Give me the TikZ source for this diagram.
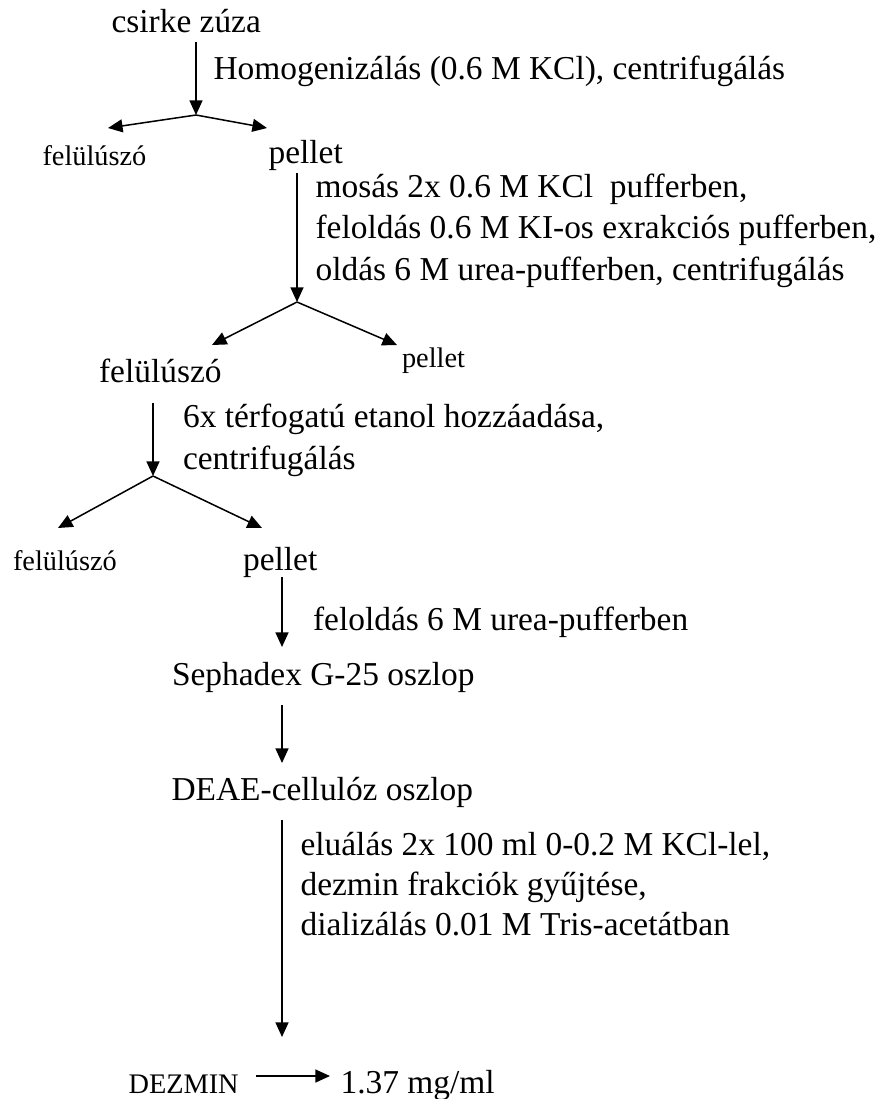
\documentclass[tikz,border=0pt]{standalone}
\usepackage{fontspec}
\setmainfont{Liberation Serif}
\usepackage{tikz}
\usetikzlibrary{arrows.meta}
\tikzset{
   every path/.style={>={Triangle[length=5.3pt,width=4.7pt]}},
   flow/.style={->,line width=0.55pt},
   txt/.style={anchor=base west,inner sep=0pt,font=\fontsize{12.15pt}{14pt}\selectfont},
   txtsm/.style={txt,font=\fontsize{10.3pt}{12pt}\selectfont},
}
\begin{document}
\begin{tikzpicture}[x=0.3636pt,y=-0.3636pt]
        \useasboundingbox (0,0) rectangle (882,1099);

        \node[txt] (zuza) at (111,32) {csirke zúza};
        \node[txt] (homog) at (213,79) {Homogenizálás (0.6 M KCl), centrifugálás};
        \node[txtsm] (fel1) at (42,165) {felülúszó};
        \node[txt] (pel1) at (268,163) {pellet};

        \node[txt] (mos1) at (315,197) {mosás 2x 0.6 M KCl\ \ pufferben,};
        \node[txt] (mos2) at (315,238.5) {feloldás 0.6 M KI-os exrakciós pufferben,};
        \node[txt] (mos3) at (315,280) {oldás 6 M urea-pufferben, centrifugálás};
        \node[txtsm] (pel2) at (401.5,367) {pellet};
        \node[txt] (fel2) at (98.5,382) {felülúszó};

        \node[txt] (etan1) at (182.5,427) {6x térfogatú etanol hozzáadása,};
        \node[txt] (etan2) at (182.5,469) {centrifugálás};
        \node[txtsm] (fel3) at (12.5,570) {felülúszó};
        \node[txt] (pel3) at (242.5,570) {pellet};

        \node[txt] (urea) at (312.5,630) {feloldás 6 M urea-pufferben};
        \node[txt] (seph) at (171.5,685) {Sephadex G-25 oszlop};
        \node[txt] (deae) at (171,800) {DEAE-cellulóz oszlop};

        \node[txt] (elu1) at (300,855) {eluálás 2x 100 ml 0-0.2 M KCl-lel,};
        \node[txt] (elu2) at (300,895) {dezmin frakciók gyűjtése,};
        \node[txt] (elu3) at (300,935) {dializálás 0.01 M Tris-acetátban};

        \node[txtsm] (dezmin) at (128,1093) {DEZMIN};
        \node[txt] (conc) at (340,1093) {1.37 mg/ml};

        % split points and arrow ends
        \coordinate (s1) at (196,42);   \coordinate (b1) at (196,115);
        \coordinate (l1) at (108,128);  \coordinate (r1) at (267,128);
        \coordinate (s2) at (297,173);  \coordinate (b2) at (297,302);
        \coordinate (l2) at (212,345);  \coordinate (r2) at (397,345);
        \coordinate (s3) at (153,403);  \coordinate (b3) at (153,476);
        \coordinate (l3) at (58,528);   \coordinate (r3) at (262,528);
        \coordinate (s4) at (282,577);  \coordinate (e4) at (282,647);
        \coordinate (s5) at (282,705);  \coordinate (e5) at (282,763);
        \coordinate (s6) at (282,820);  \coordinate (e6) at (282,1037);
        \coordinate (h1) at (256,1076); \coordinate (h2) at (330,1076);

        \draw[flow] (s1) -- (b1);
        \draw[flow] (b1) -- (l1);
        \draw[flow] (b1) -- (r1);

        \draw[flow] (s2) -- (b2);
        \draw[flow] (b2) -- (l2);
        \draw[flow] (b2) -- (r2);

        \draw[flow] (s3) -- (b3);
        \draw[flow] (b3) -- (l3);
        \draw[flow] (b3) -- (r3);

        \draw[flow] (s4) -- (e4);
        \draw[flow] (s5) -- (e5);
        \draw[flow] (s6) -- (e6);
        \draw[flow] (h1) -- (h2);
      \end{tikzpicture}
\end{document}
